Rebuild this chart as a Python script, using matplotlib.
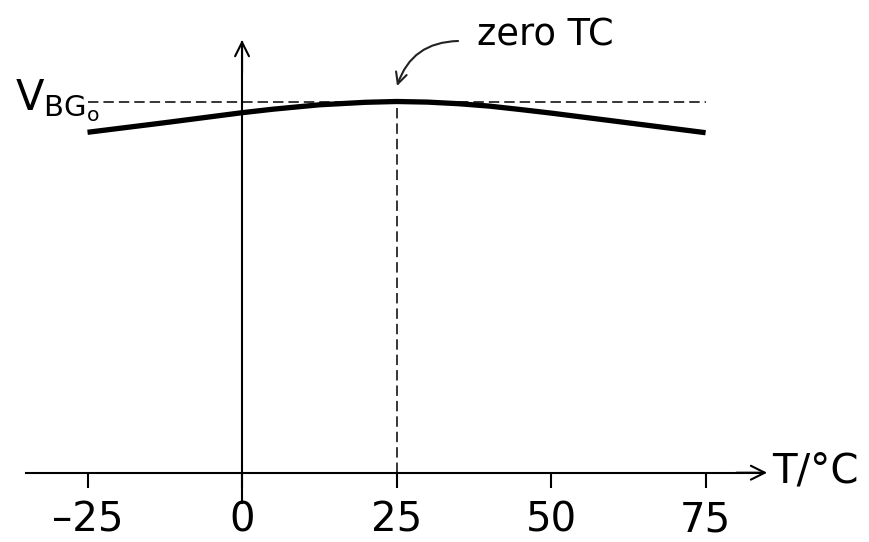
import matplotlib
matplotlib.use("Agg")
import matplotlib.pyplot as plt

plt.rcParams['font.family'] = ['DejaVu Sans']
plt.rcParams['mathtext.fontset'] = 'dejavusans'
plt.rcParams['lines.scale_dashes'] = False

# bandgap-Spannung über Temperatur (relative Einheiten)
temp = [-25, -12.5, 0, 5, 12.5, 20, 25, 30, 35, 40, 45, 50, 60, 75]
v_bg = [340.4, 350.0, 360.0, 363.5, 367.9, 370.4, 371.2, 370.6, 369.0, 366.6, 363.2, 359.6, 351.8, 340.0]
t_null = 25
v_bg0 = 371.2
xticks = [-25, 0, 25, 50, 75]
xlabels = ['–25', '0', '25', '50', '75']

fig = plt.figure(figsize=(8.7, 5.42), dpi=100)
ax = fig.add_axes([0, 0, 1, 1])
ax.set_xlim(-39.16, 101.6)
ax.set_ylim(-69.3, 472.7)

# Achsen als Spines durch den Nullpunkt
for s in ['top', 'right']:
    ax.spines[s].set_visible(False)
ax.spines['bottom'].set_position(('data', 0))
ax.spines['left'].set_position(('data', 0))
ax.spines['bottom'].set_bounds(-34.95, 84.0)
ax.spines['left'].set_bounds(-30, 431)
ax.spines['bottom'].set_linewidth(1.5)
ax.spines['left'].set_linewidth(1.5)

ax.set_xticks(xticks)
ax.set_xticklabels(xlabels, fontsize=29)
ax.tick_params(axis='x', direction='out', length=11, width=1.5, pad=9)
ax.set_yticks([])

# Pfeilspitzen
pfeil = '->,head_length=1.0,head_width=0.5'
ax.annotate('', xy=(84.95, 0), xytext=(80, 0),
            arrowprops=dict(arrowstyle=pfeil, lw=1.5, color='black', shrinkA=0, shrinkB=0))
ax.annotate('', xy=(0, 432.7), xytext=(0, 400),
            arrowprops=dict(arrowstyle=pfeil, lw=1.5, color='black', shrinkA=0, shrinkB=0))

# Hilfslinien
ax.plot([-25, 75], [v_bg0, v_bg0], color='black', lw=1.1, linestyle=(0, (7.5, 3.6)))
ax.plot([t_null, t_null], [0, v_bg0], color='black', lw=1.1, linestyle=(0, (7.5, 3.6)))

# Kurve
ax.plot(temp, v_bg, color='black', lw=3.8, solid_capstyle='butt')

ax.text(85.8, -10.3, 'T/°C', fontsize=29, ha='left', va='baseline')
ax.text(-36.7, 362.7, r'$\mathrm{V}_{\mathrm{BG}_{\mathrm{o}}}$', fontsize=30, ha='left', va='baseline')

ax.text(38.0, 427.7, 'zero TC', fontsize=26.5, ha='left', va='baseline')
ax.annotate('', xy=(25.08, 386.7), xytext=(34.95, 431.7),
            arrowprops=dict(arrowstyle='->,head_length=0.8,head_width=0.4', lw=1.5, color='#222222',
                            connectionstyle='arc3,rad=0.35', shrinkA=0, shrinkB=0))

fig.savefig('out.png', dpi=100)
